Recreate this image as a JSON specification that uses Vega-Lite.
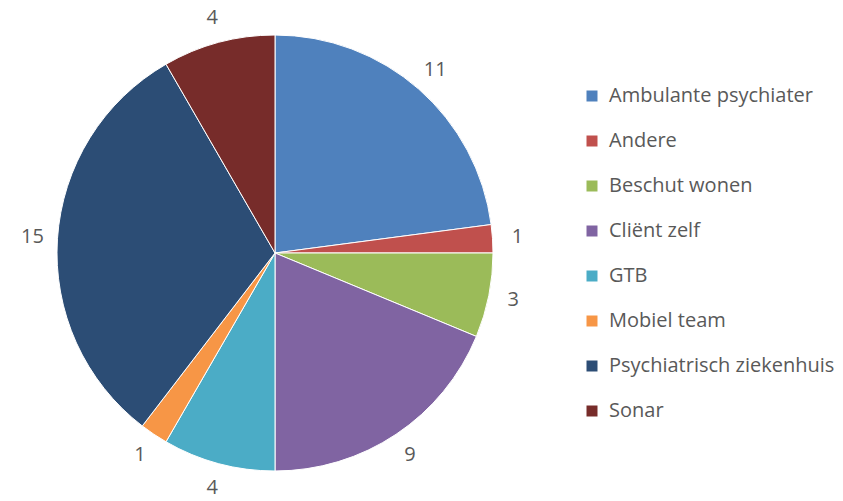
{
  "$schema": "https://vega.github.io/schema/vega-lite/v6.json",
  "width": 843,
  "height": 501,
  "autosize": {"type": "none"},
  "padding": 0,
  "background": "white",
  "config": {"view": {"stroke": null}, "font": "Open Sans"},
  "data": {
    "values": [
      {"category": "Ambulante psychiater", "value": 11},
      {"category": "Andere", "value": 1},
      {"category": "Beschut wonen", "value": 3},
      {"category": "Cliënt zelf", "value": 9},
      {"category": "GTB", "value": 4},
      {"category": "Mobiel team", "value": 1},
      {"category": "Psychiatrisch ziekenhuis", "value": 15},
      {"category": "Sonar", "value": 4}
    ]
  },
  "encoding": {
    "theta": {"field": "value", "type": "quantitative", "stack": true},
    "color": {
      "field": "category",
      "type": "nominal",
      "sort": null,
      "scale": {
        "domain": ["Ambulante psychiater", "Andere", "Beschut wonen", "Cliënt zelf", "GTB", "Mobiel team", "Psychiatrisch ziekenhuis", "Sonar"],
        "range": ["#4F81BD", "#C0504D", "#9BBB59", "#8064A2", "#4BACC6", "#F79646", "#2C4D75", "#772C2A"]
      },
      "legend": {
        "title": null,
        "orient": "none",
        "legendX": 582,
        "legendY": 86,
        "symbolType": "square",
        "symbolSize": 121,
        "symbolStrokeWidth": 0,
        "labelFontSize": 20,
        "labelColor": "#595959",
        "labelFont": "Open Sans",
        "labelOffset": 7,
        "rowPadding": 25,
        "labelLimit": 300
      }
    },
    "order": {"field": "idx", "type": "quantitative"}
  },
  "layer": [
    {
      "mark": {"type": "arc", "outerRadius": 218, "x": 275, "y": 253, "stroke": "white", "strokeWidth": 1}
    },
    {
      "mark": {"type": "text", "radius": 243, "x": 275, "y": 253, "fontSize": 20, "fill": "#595959", "font": "Open Sans"},
      "encoding": {
        "text": {"field": "value", "type": "quantitative"},
        "color": {"value": "#595959"}
      }
    }
  ]
}
